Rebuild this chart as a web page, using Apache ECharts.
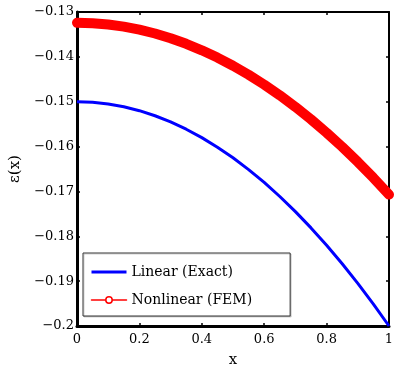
<!DOCTYPE html>
<html>
<head>
<meta charset="utf-8">
<script src="https://cdn.jsdelivr.net/npm/echarts@6/dist/echarts.min.js"></script>
<style>html,body{margin:0;padding:0;background:#fff}#c{width:400px;height:373px}</style>
</head>
<body>
<div id="c"></div>
<script>
var xValues = [0,0.05,0.1,0.15,0.2,0.25,0.3,0.35,0.4,0.45,0.5,0.55,0.6,0.65,0.7,0.75,0.8,0.85,0.9,0.95,1];
var linearExact = [-0.15,-0.15013,-0.1505,-0.15113,-0.152,-0.15313,-0.1545,-0.15613,-0.158,-0.16013,-0.1625,-0.16513,-0.168,-0.17113,-0.1745,-0.17813,-0.182,-0.18613,-0.1905,-0.19513,-0.2];
var nonlinearFEM = [-0.1324,-0.1325,-0.13278,-0.13326,-0.13393,-0.13479,-0.13585,-0.13709,-0.13853,-0.14016,-0.14198,-0.14399,-0.14619,-0.14858,-0.15117,-0.15394,-0.15691,-0.16007,-0.16342,-0.16697,-0.1707];
var xTickLabels = ['0','0.2','0.4','0.6','0.8','1'];
var yTickLabels = ['\u22120.2','\u22120.19','\u22120.18','\u22120.17','\u22120.16','\u22120.15','\u22120.14','\u22120.13'];
var seriesNames = ['Linear (Exact)','Nonlinear (FEM)'];

var FONT = 'DejaVu Serif';
function pair(xs, ys){ return xs.map(function(x,i){ return [x, ys[i]]; }); }

var chart = echarts.init(document.getElementById('c'), null, {renderer:'canvas'});
var baseAxis = {
  axisTick: {show:true, inside:true, length:3, lineStyle:{color:'#000', width:1.5}},
  splitLine: {show:false}
};
chart.setOption({
  animation:false,
  backgroundColor:'#fff',
  grid:{left:70, right:11, top:12, bottom:43},
  legend:{
    orient:'vertical', left:83, top:253,
    padding:[11,38,8,7], itemGap:12, itemWidth:35, itemHeight:8,
    backgroundColor:'#fff', borderColor:'#333', borderWidth:1,
    shadowColor:'rgba(0,0,0,0.18)', shadowOffsetX:1, shadowOffsetY:1, shadowBlur:0,
    textStyle:{fontFamily:FONT, fontSize:14, color:'#000', lineHeight:16},
    data:[
      {name:seriesNames[0], itemStyle:{opacity:0}, lineStyle:{width:3}},
      {name:seriesNames[1], itemStyle:{color:'#fff', borderColor:'#f00', borderWidth:1.5}, lineStyle:{width:1.5}}
    ]
  },
  xAxis:[
    Object.assign({}, baseAxis, {
      type:'value', min:0, max:1, interval:0.2, position:'bottom',
      name:'x', nameLocation:'middle', nameGap:27,
      nameTextStyle:{fontFamily:FONT, fontSize:15, color:'#000'},
      axisLine:{show:true, onZero:false, lineStyle:{color:'#000', width:3}},
      axisLabel:{fontFamily:FONT, fontSize:13, color:'#000', margin:7,
        formatter:function(v){ return xTickLabels[Math.round(v/0.2)]; }}
    }),
    Object.assign({}, baseAxis, {
      type:'value', min:0, max:1, interval:0.2, position:'top',
      axisLine:{show:true, onZero:false, lineStyle:{color:'#000', width:2}},
      axisLabel:{show:false}
    })
  ],
  yAxis:[
    Object.assign({}, baseAxis, {
      type:'value', min:-0.2, max:-0.13, interval:0.01, position:'left',
      name:'\u03b5(x)', nameLocation:'middle', nameGap:54,
      nameTextStyle:{fontFamily:FONT, fontSize:15, color:'#000'},
      axisLine:{show:true, onZero:false, lineStyle:{color:'#000', width:3}},
      axisLabel:{fontFamily:FONT, fontSize:13, color:'#000', margin:3,
        formatter:function(v){ return yTickLabels[Math.round((v+0.2)/0.01)]; }}
    }),
    Object.assign({}, baseAxis, {
      type:'value', min:-0.2, max:-0.13, interval:0.01, position:'right',
      axisLine:{show:true, onZero:false, lineStyle:{color:'#000', width:2}},
      axisLabel:{show:false}
    })
  ],
  series:[
    {name:seriesNames[0], type:'line', data:pair(xValues, linearExact), smooth:false,
     showSymbol:false, symbol:'none', lineStyle:{color:'#0000ff', width:3, join:'round'}, itemStyle:{color:'#0000ff'}, z:3},
    {name:seriesNames[1], type:'line', data:pair(xValues, nonlinearFEM), smooth:false,
     showSymbol:false, symbol:'none', lineStyle:{color:'#ff0000', width:10, cap:'round', join:'round'}, itemStyle:{color:'#ff0000'}, z:4}
  ]
});
</script>
</body>
</html>
